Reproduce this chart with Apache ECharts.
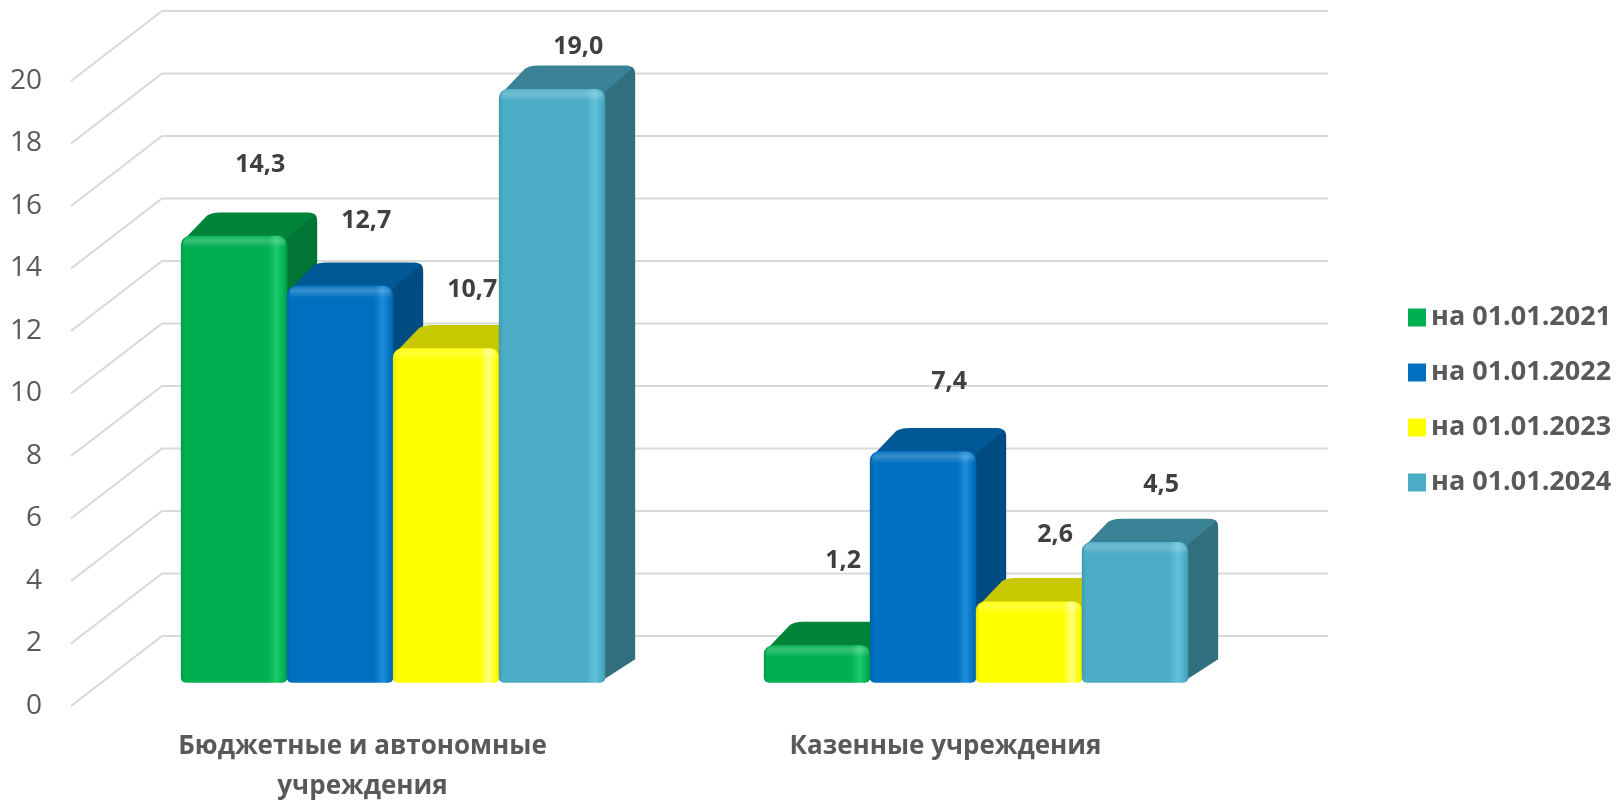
<!DOCTYPE html>
<html>
<head>
<meta charset="utf-8">
<script src="https://cdn.jsdelivr.net/npm/echarts@6/dist/echarts.min.js"></script>
<style>
  html, body { margin: 0; padding: 0; background: #ffffff; }
  #chart { width: 1619px; height: 800px; }
</style>
</head>
<body>
<div id="chart"></div>
<script>
// ---- data ----
const categories = ['Бюджетные и автономные учреждения', 'Казенные учреждения'];
const seriesNames = ['на 01.01.2021', 'на 01.01.2022', 'на 01.01.2023', 'на 01.01.2024'];
const values2021 = [14.3, 1.2];
const values2022 = [12.7, 7.4];
const values2023 = [10.7, 2.6];
const values2024 = [19.0, 4.5];
const yTicks = [0, 2, 4, 6, 8, 10, 12, 14, 16, 18, 20];

const seriesValues = [values2021, values2022, values2023, values2024];

// ---- styling ----
const FONT = 'Open Sans, Noto Sans, sans-serif';
const palette = [
  { front: '#00B050', top: '#00843A', side: '#007534', light: '#1FCB6A', edge: '#009A45' },
  { front: '#0070C0', top: '#005896', side: '#004C82', light: '#1E8EDB', edge: '#0062A8' },
  { front: '#FFFF00', top: '#C8C800', side: '#B2B200', light: '#FFFF80', edge: '#E6E600' },
  { front: '#4BACC6', top: '#3A8396', side: '#316F7F', light: '#62C3DB', edge: '#4299B0' }
];
// full depth of the floor in screen px (oblique projection)
const DEPTH_X = 91, DEPTH_Y = -70;
// columns occupy the middle third of the depth
const COL_FRONT = 1 / 3, COL_DEPTH = 1 / 3;

function fmt(v) {
  return v.toFixed(1).replace('.', ',');
}

// greedy word wrap for the category names
function wrapWords(text, maxChars) {
  const lines = [];
  let line = '';
  text.split(' ').forEach(w => {
    if (line && (line + ' ' + w).length > maxChars) {
      lines.push(line);
      line = w;
    } else {
      line = line ? line + ' ' + w : w;
    }
  });
  if (line) lines.push(line);
  return lines.join('\n');
}

// geometry of one column in screen px
function columnBox(api, s) {
  const i = api.value(0);
  const v = api.value(1);
  const base = api.coord([i, 0]);
  const topPt = api.coord([i, v]);
  const catW = api.size([1, 0])[0];
  const bw = catW / 5.5;
  const ox = DEPTH_X * COL_FRONT, oy = DEPTH_Y * COL_FRONT;
  const xL = base[0] - 2 * bw + s * bw + ox;
  return {
    v: v,
    xL: xL,
    xR: xL + bw,
    bw: bw,
    yB: base[1] + oy,
    yT: topPt[1] + oy,
    dx: DEPTH_X * COL_DEPTH,
    dy: DEPTH_Y * COL_DEPTH
  };
}

// back wall + left wall gridlines
function renderWalls(params, api) {
  const cs = params.coordSys;
  const y = api.coord([0, api.value(1)])[1];
  return {
    type: 'polyline',
    silent: true,
    shape: {
      points: [
        [cs.x, y],
        [cs.x + DEPTH_X, y + DEPTH_Y],
        [cs.x + cs.width + DEPTH_X, y + DEPTH_Y]
      ]
    },
    style: { stroke: '#D9D9D9', lineWidth: 2, fill: null }
  };
}

// 3D-looking column: right side face, top face and front face
function columnRenderer(s) {
  const c = palette[s];
  return function (params, api) {
    const b = columnBox(api, s);
    const { xL, xR, yB, yT, bw, dx, dy } = b;
    const h = yB - yT;
    const r = Math.min(9, h / 2);
    const bx = xR + dx, by = yT + dy;   // back-right top corner

    const children = [];
    // right side face (slightly tucked under the front face to avoid seams)
    children.push({
      type: 'path',
      shape: {
        pathData:
          'M' + (xR - 6) + ',' + (yT + 2) +
          'L' + (bx - 7) + ',' + (by + 1) +
          'Q' + bx + ',' + by + ' ' + bx + ',' + (by + 9) +
          'L' + bx + ',' + (yB + dy) +
          'L' + (xR - 6) + ',' + yB + 'Z'
      },
      style: { fill: c.side }
    });
    // top face with rounded back corners
    children.push({
      type: 'path',
      shape: {
        pathData:
          'M' + (xL + 3) + ',' + (yT + 4) +
          'L' + (xL + dx - 4) + ',' + (by + 3) +
          'Q' + (xL + dx + 1) + ',' + by + ' ' + (xL + dx + 9) + ',' + by +
          'L' + (bx - 9) + ',' + by +
          'Q' + (bx - 3) + ',' + by + ' ' + (bx - 4) + ',' + (by + 4) +
          'L' + (xR - 4) + ',' + (yT + 6) +
          'L' + (xR - 4) + ',' + (yT + 10) +
          'L' + (xL + 3) + ',' + (yT + 10) + 'Z'
      },
      style: { fill: c.top }
    });
    // front face
    children.push({
      type: 'rect',
      shape: { x: xL, y: yT, width: bw + 0.5, height: h, r: [r, r, 5, 5] },
      style: {
        fill: new echarts.graphic.LinearGradient(0, 0, 1, 0, [
          { offset: 0, color: c.edge },
          { offset: 0.04, color: c.front },
          { offset: 0.82, color: c.front },
          { offset: 0.9, color: c.light },
          { offset: 0.97, color: c.front },
          { offset: 1, color: c.edge }
        ])
      }
    });
    // bevel highlight along the top edge of the front face
    children.push({
      type: 'rect',
      shape: { x: xL + 2, y: yT, width: bw - 3, height: Math.min(12, h / 2), r: [r, r, 0, 0] },
      style: {
        fill: new echarts.graphic.LinearGradient(0, 0, 0, 1, [
          { offset: 0, color: 'rgba(255,255,255,0.05)' },
          { offset: 0.4, color: 'rgba(255,255,255,0.22)' },
          { offset: 1, color: 'rgba(255,255,255,0)' }
        ])
      }
    });
    return { type: 'group', children: children };
  };
}

// value label above the column; floats a little higher over short columns
// and over the left-hand series
function labelRenderer(s) {
  return function (params, api) {
    const b = columnBox(api, s);
    const lift = 62 - b.v - 8 * s;
    return {
      type: 'text',
      silent: true,
      style: {
        x: (b.xL + b.xR) / 2 + b.dx - 4,
        y: b.yT + b.dy - lift,
        text: fmt(b.v),
        align: 'center',
        verticalAlign: 'middle',
        fill: '#404040',
        font: 'bold 25px ' + FONT
      }
    };
  };
}

const chart = echarts.init(document.getElementById('chart'), null, { renderer: 'canvas' });

const series = [{
  type: 'custom',
  name: 'walls',
  silent: true,
  z: 1,
  renderItem: renderWalls,
  data: yTicks.map(t => [0, t])
}];
seriesValues.forEach((vals, s) => {
  series.push({
    type: 'custom',
    name: seriesNames[s],
    z: 2,
    itemStyle: { color: palette[s].front },
    renderItem: columnRenderer(s),
    data: vals.map((v, i) => [i, v])
  });
});
seriesValues.forEach((vals, s) => {
  series.push({
    type: 'custom',
    name: seriesNames[s] + ' labels',
    z: 3,
    silent: true,
    renderItem: labelRenderer(s),
    data: vals.map((v, i) => [i, v])
  });
});

chart.setOption({
  backgroundColor: '#ffffff',
  animation: false,
  grid: { left: 71, top: 81, width: 1166, height: 625, containLabel: false, outerBoundsMode: 'none' },
  xAxis: {
    type: 'category',
    data: categories,
    axisLine: { show: false },
    axisTick: { show: false },
    splitLine: { show: false },
    axisLabel: {
      interval: 0,
      color: '#595959',
      fontFamily: FONT,
      fontWeight: 'bold',
      fontSize: 26,
      lineHeight: 40,
      margin: 21,
      formatter: name => wrapWords(name, 24)
    }
  },
  yAxis: {
    type: 'value',
    min: 0,
    max: 20,
    interval: 2,
    axisLine: { show: false },
    axisTick: { show: false },
    splitLine: { show: false },
    axisLabel: { color: '#595959', fontFamily: FONT, fontSize: 28, margin: 29 }
  },
  legend: {
    data: seriesNames,
    orient: 'vertical',
    left: 1403,
    top: 299,
    icon: 'rect',
    itemWidth: 18,
    itemHeight: 18,
    itemGap: 28,
    itemTextGap: 8,
    selectedMode: false,
    textStyle: { color: '#595959', fontFamily: FONT, fontWeight: 'bold', fontSize: 27, lineHeight: 27 }
  },
  series: series
});
</script>
</body>
</html>
